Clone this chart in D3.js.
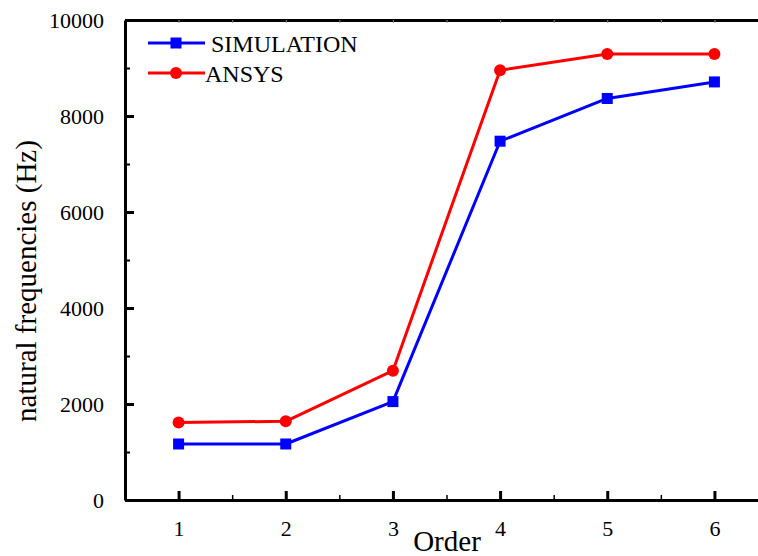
<!DOCTYPE html>
<html>
<head>
<meta charset="utf-8">
<script src="https://cdn.jsdelivr.net/npm/d3@7"></script>
<style>
  body { margin: 0; background: #fff; }
  svg { display: block; }
  svg text { font-family: "Liberation Serif", "Times New Roman", serif; fill: #000; }
</style>
</head>
<body>
<svg id="chart" width="758" height="556"></svg>
<script>
// chart data
const orders = [1, 2, 3, 4, 5, 6];
const simulation = [1167, 1167, 2050, 7475, 8365, 8710];
const ansys = [1615, 1640, 2695, 8955, 9290, 9290];
const yTicks = [0, 2000, 4000, 6000, 8000, 10000];
const seriesNames = ["SIMULATION", "ANSYS"];

// set dimensions
const marginLeft = 125;
const marginTop = 20;
const width = 643;
const height = 480;

const svg = d3.select('#chart');

const chart = svg.append('g')
  .attr('transform', `translate(${marginLeft}, ${marginTop})`);

const xScale = d3.scaleLinear()
  .domain([0.5, 6.5])
  .range([0, width]);

const yScale = d3.scaleLinear()
  .domain([0, 10000])
  .range([height, 0]);

// minor ticks first so the axis lines sit on top
chart.append('g')
  .attr('transform', `translate(0, ${height})`)
  .call(d3.axisBottom(xScale).tickValues(d3.range(1.5, 6.5, 1)).tickSizeInner(-5).tickSizeOuter(0).tickFormat(''))
  .call(g => g.select('.domain').remove())
  .call(g => g.selectAll('line').attr('stroke-width', 1.5));

chart.append('g')
  .call(d3.axisLeft(yScale).tickValues(d3.range(1000, 10000, 2000)).tickSizeInner(-5).tickSizeOuter(0).tickFormat(''))
  .call(g => g.select('.domain').remove())
  .call(g => g.selectAll('line').attr('stroke-width', 2));

// top frame with small ticks
chart.append('g')
  .call(d3.axisTop(xScale).tickValues(d3.range(1, 6.5, 0.5)).tickSizeInner(-3).tickSizeOuter(0).tickFormat(''))
  .call(g => g.select('.domain').attr('stroke-width', 3))
  .call(g => g.selectAll('line').attr('stroke', '#888').attr('stroke-width', 1));

// x axis
chart.append('g')
  .attr('transform', `translate(0, ${height})`)
  .call(d3.axisBottom(xScale).tickValues(orders).tickFormat(d3.format('d'))
    .tickSizeInner(-9).tickSizeOuter(0).tickPadding(20))
  .attr('font-family', null)
  .call(g => g.select('.domain').attr('stroke-width', 3))
  .call(g => g.selectAll('line').attr('stroke-width', 3))
  .call(g => g.selectAll('text').style('font-size', '22px'));

// y axis
chart.append('g')
  .call(d3.axisLeft(yScale).tickValues(yTicks).tickFormat(d3.format('d'))
    .tickSizeInner(-9).tickSizeOuter(0).tickPadding(21))
  .attr('font-family', null)
  .call(g => g.select('.domain').attr('stroke-width', 3))
  .call(g => g.selectAll('line').attr('stroke-width', 3))
  .call(g => g.selectAll('text').style('font-size', '22px'));

// series
const series = [
  { name: seriesNames[0], values: simulation, color: '#0000ff', shape: 'square' },
  { name: seriesNames[1], values: ansys, color: '#ff0000', shape: 'circle' }
];

const line = d3.line()
  .x((d, i) => xScale(orders[i]))
  .y(d => yScale(d));

const drawMarker = (g, shape, color) => {
  if (shape === 'square') {
    g.append('rect')
      .attr('x', -5.5).attr('y', -5.5)
      .attr('width', 11).attr('height', 11)
      .attr('fill', color);
  } else {
    g.append('circle')
      .attr('r', 6)
      .attr('fill', color);
  }
};

series.forEach(s => {
  chart.append('path')
    .datum(s.values)
    .attr('fill', 'none')
    .attr('stroke', s.color)
    .attr('stroke-width', 3)
    .attr('stroke-linejoin', 'round')
    .attr('d', line);

  chart.selectAll(null)
    .data(s.values)
    .enter()
    .append('g')
    .attr('transform', (d, i) => `translate(${xScale(orders[i])}, ${yScale(d)})`)
    .each(function () { drawMarker(d3.select(this), s.shape, s.color); });
});

// legend
const legend = svg.append('g');
const legendY = [43, 73];
const legendTextX = [211, 205];
series.forEach((s, i) => {
  const row = legend.append('g').attr('transform', `translate(0, ${legendY[i]})`);
  row.append('line')
    .attr('x1', 148).attr('x2', 205)
    .attr('stroke', s.color)
    .attr('stroke-width', 3);
  drawMarker(row.append('g').attr('transform', 'translate(176, 0)'), s.shape, s.color);
  row.append('text')
    .attr('x', legendTextX[i])
    .attr('y', 9)
    .style('font-size', '24px')
    .text(s.name);
});

// axis labels
svg.append('text')
  .attr('x', 447)
  .attr('y', 551)
  .attr('text-anchor', 'middle')
  .style('font-size', '29px')
  .text('Order');

svg.append('text')
  .attr('transform', 'translate(36, 281) rotate(-90)')
  .attr('text-anchor', 'middle')
  .style('font-size', '29px')
  .text('natural frequencies (Hz)');
</script>
</body>
</html>
